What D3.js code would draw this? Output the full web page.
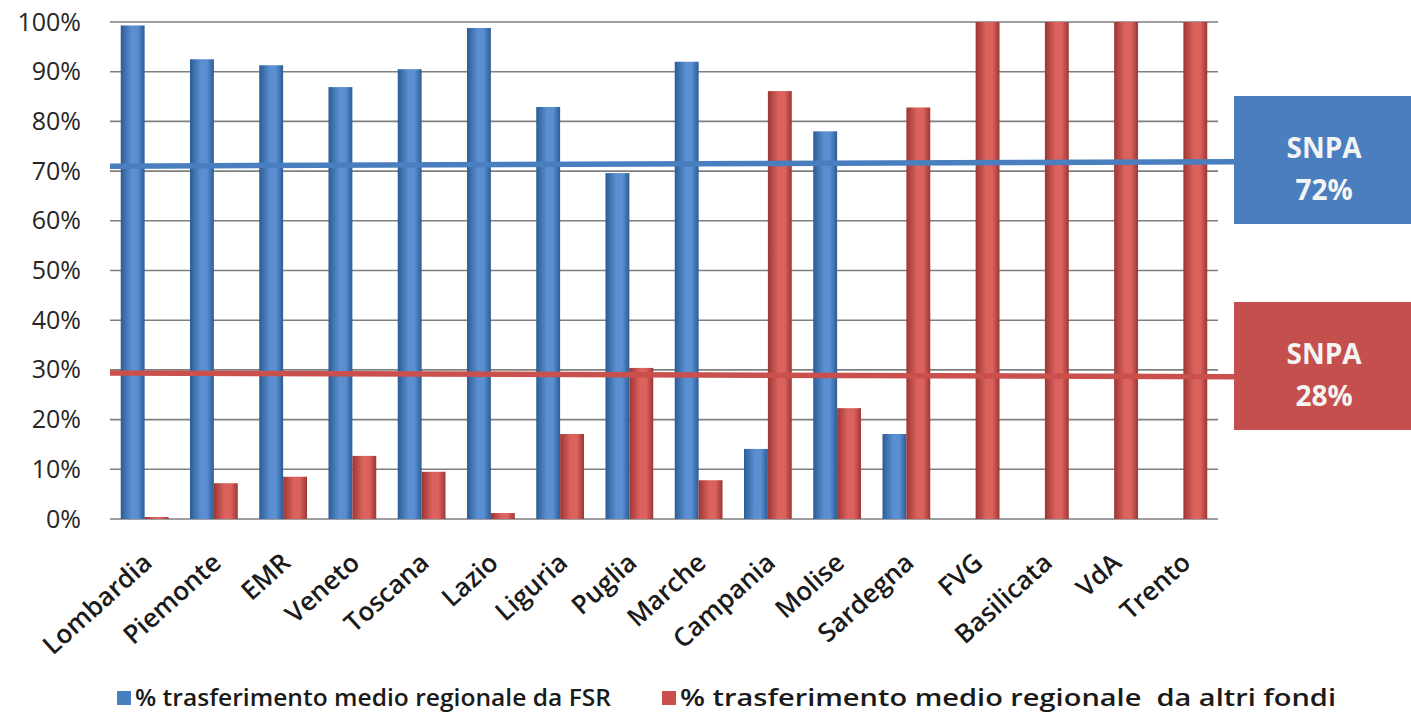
<!DOCTYPE html>
<html>
<head>
<meta charset="utf-8">
<script src="https://cdn.jsdelivr.net/npm/d3@7"></script>
<style>
  body { margin: 0; background: #fff; }
  .tick text { font-family: 'Open Sans', sans-serif; }
</style>
</head>
<body>
<div class="chart"></div>
<script>
// Regions on the x axis
const regions = ['Lombardia', 'Piemonte', 'EMR', 'Veneto', 'Toscana', 'Lazio', 'Liguria', 'Puglia',
  'Marche', 'Campania', 'Molise', 'Sardegna', 'FVG', 'Basilicata', 'VdA', 'Trento']

// % trasferimento medio regionale da FSR
const fsrValues = [99.3, 92.5, 91.3, 86.9, 90.5, 98.8, 82.9, 69.6, 92.0, 14.1, 78.0, 17.1, 0, 0, 0, 0]
// % trasferimento medio regionale da altri fondi
const altriValues = [0.4, 7.2, 8.5, 12.7, 9.5, 1.2, 17.1, 30.4, 7.8, 86.1, 22.3, 82.8, 100, 100, 100, 100]

const seriesNames = ['% trasferimento medio regionale da FSR', '% trasferimento medio regionale  da altri fondi']
const yTicks = [0, 10, 20, 30, 40, 50, 60, 70, 80, 90, 100]

// SNPA reference lines (value at left end, value at right end) and box labels
const snpaLineValues = [[71.0, 71.9], [29.4, 28.6]]
const snpaLabels = ['72%', '28%']

const colors = {
  blue: { edge: '#2c5c94', mid: '#5a8fd2', line: '#4a7fbf', box: '#4a7ebf' },
  red: { edge: '#9c3734', mid: '#dc625e', line: '#c9504c', box: '#c44f4c' }
}

const width = 1411
const height = 716
const plot = { left: 110, right: 1218, top: 22, bottom: 519 }

const svg = d3.select('.chart')
  .append('svg')
  .attr('width', width)
  .attr('height', height)

// gradients for the cylinder-ish bars
const defs = svg.append('defs')
Object.entries(colors).forEach(([key, c]) => {
  const g = defs.append('linearGradient')
    .attr('id', 'grad-' + key)
    .attr('x1', '0%').attr('x2', '100%')
    .attr('y1', '0%').attr('y2', '0%')
  g.append('stop').attr('offset', '0%').attr('stop-color', c.edge)
  g.append('stop').attr('offset', '45%').attr('stop-color', c.mid)
  g.append('stop').attr('offset', '70%').attr('stop-color', c.mid)
  g.append('stop').attr('offset', '100%').attr('stop-color', c.edge)
})

const xScale = d3.scaleBand()
  .domain(regions)
  .range([plot.left, plot.right])
  .paddingInner(0.31)
  .paddingOuter(0.155)

const xSub = d3.scaleBand()
  .domain([0, 1])
  .range([0, xScale.bandwidth()])

const yScale = d3.scaleLinear()
  .domain([0, 100])
  .range([plot.bottom, plot.top])

// gridlines
svg.append('g')
  .selectAll('line')
  .data(yTicks)
  .enter()
  .append('line')
  .attr('x1', plot.left)
  .attr('x2', plot.right)
  .attr('y1', d => yScale(d))
  .attr('y2', d => yScale(d))
  .attr('stroke', '#7f7f7f')
  .attr('stroke-width', 1.6)

// y axis labels
const yAxis = d3.axisLeft(yScale)
  .tickValues(yTicks)
  .tickFormat(d => d + '%')
  .tickSize(0)
  .tickPadding(29)

svg.append('g')
  .attr('transform', `translate(${plot.left}, 0)`)
  .call(yAxis)
  .call(g => g.select('.domain').remove())
  .selectAll('text')
  .attr('font-size', 25)
  .attr('fill', '#262626')

// bars
const rows = regions.map((r, i) => ({ region: r, values: [fsrValues[i], altriValues[i]] }))

const groups = svg.append('g')
  .selectAll('g')
  .data(rows)
  .enter()
  .append('g')
  .attr('transform', d => `translate(${xScale(d.region)}, 0)`)

groups.selectAll('rect')
  .data(d => d.values.map((v, k) => ({ v, k })).filter(e => e.v > 0))
  .enter()
  .append('rect')
  .attr('x', d => xSub(d.k))
  .attr('width', xSub.bandwidth())
  .attr('y', d => yScale(d.v))
  .attr('height', d => yScale(0) - yScale(d.v))
  .attr('fill', d => d.k === 0 ? 'url(#grad-blue)' : 'url(#grad-red)')

// x axis labels
const xAxis = d3.axisBottom(xScale).tickSize(0).tickPadding(0)
svg.append('g')
  .attr('transform', `translate(0, ${plot.bottom})`)
  .call(xAxis)
  .call(g => g.select('.domain').remove())
  .selectAll('text')
  .attr('font-size', 26)
  .attr('font-weight', 600)
  .attr('fill', '#1a1a1a')
  .attr('text-anchor', 'end')
  .attr('dy', null)
  .attr('y', 0)
  .attr('transform', 'translate(9, 46) rotate(-42)')

// SNPA lines and boxes
const snpa = snpaLineValues.map((v, i) => ({ v, label: snpaLabels[i], c: i === 0 ? colors.blue : colors.red }))
const boxTop = [96, 302]
const boxX = 1234

snpa.forEach((d, i) => {
  svg.append('line')
    .attr('x1', plot.left)
    .attr('x2', boxX)
    .attr('y1', yScale(d.v[0]))
    .attr('y2', yScale(d.v[1]))
    .attr('stroke', d.c.line)
    .attr('stroke-width', 5.5)

  svg.append('rect')
    .attr('x', boxX)
    .attr('y', boxTop[i])
    .attr('width', width - boxX)
    .attr('height', 128)
    .attr('fill', d.c.box)

  svg.append('text')
    .attr('x', 1324)
    .attr('y', boxTop[i] + 62)
    .attr('text-anchor', 'middle')
    .attr('font-family', 'Open Sans, sans-serif')
    .attr('font-weight', 700)
    .attr('font-size', 28)
    .attr('fill', '#f4f4f4')
    .text('SNPA')

  svg.append('text')
    .attr('x', 1324)
    .attr('y', boxTop[i] + 104)
    .attr('text-anchor', 'middle')
    .attr('font-family', 'Open Sans, sans-serif')
    .attr('font-weight', 700)
    .attr('font-size', 28)
    .attr('fill', '#f4f4f4')
    .text(d.label)
})

// legend
const legendX = [117, 662]
const legendTextLen = [476, 656]
const legend = svg.append('g')
  .selectAll('g')
  .data(seriesNames)
  .enter()
  .append('g')
  .attr('transform', (d, i) => `translate(${legendX[i]}, 691)`)

legend.append('rect')
  .attr('width', 14)
  .attr('height', 14)
  .attr('fill', (d, i) => i === 0 ? colors.blue.line : colors.red.line)

legend.append('text')
  .attr('x', 18)
  .attr('y', 15)
  .attr('font-family', 'Open Sans, sans-serif')
  .attr('font-weight', 600)
  .attr('font-size', 23)
  .attr('fill', '#1a1a1a')
  .attr('xml:space', 'preserve')
  .attr('textLength', (d, i) => legendTextLen[i])
  .attr('lengthAdjust', 'spacingAndGlyphs')
  .text(d => d)
</script>
</body>
</html>
